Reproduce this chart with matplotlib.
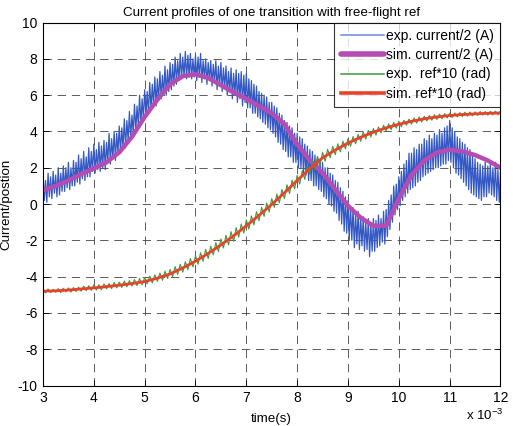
import numpy as np
import matplotlib
matplotlib.use("Agg")
import matplotlib.pyplot as plt

plt.rcParams['font.family'] = ['Liberation Sans', 'DejaVu Sans']
plt.rcParams['axes.unicode_minus'] = False

# ---- data (time in ms, i.e. x 10^-3 s) ----
# experimental current: ripple peaks (at 3.00, 3.05, ... 12.00 ms)
exp_current_peaks = [
    1.6, 1.3, 1.7, 1.5, 1.8, 1.6, 2.0, 1.7, 2.1, 2.0,
    2.3, 2.0, 2.4, 2.3, 2.7, 2.5, 2.9, 2.6, 3.1, 2.9,
    3.3, 3.0, 3.4, 3.2, 3.5, 3.4, 3.9, 3.6, 4.0, 3.9,
    4.3, 4.2, 4.7, 4.6, 5.1, 4.9, 5.5, 5.4, 6.0, 5.8,
    6.3, 6.2, 6.7, 6.6, 7.0, 6.9, 7.3, 7.1, 7.6, 7.4,
    7.8, 7.7, 8.1, 7.9, 8.3, 8.1, 8.4, 8.2, 8.3, 8.0,
    8.2, 8.1, 8.3, 7.9, 8.0, 7.8, 7.9, 7.7, 7.9, 7.6,
    7.8, 7.5, 7.6, 7.3, 7.5, 7.2, 7.4, 7.2, 7.3, 7.1,
    7.2, 6.9, 6.8, 6.6, 6.5, 6.2, 6.1, 6.0, 5.9, 5.6,
    5.6, 5.4, 5.3, 5.0, 4.9, 4.6, 4.5, 4.3, 4.2, 3.9,
    3.9, 3.7, 3.6, 3.3, 3.2, 3.0, 2.9, 2.7, 2.6, 2.4,
    2.3, 2.0, 2.0, 1.7, 1.6, 1.3, 1.2, 0.9, 0.7, 0.4,
    0.2, -0.1, -0.2, -0.5, -0.4, -0.7, -0.7, -1.0, -0.8, -1.1,
    -0.8, -0.9, -0.6, -0.8, -0.4, -0.3, 0.2, 0.5, 1.0, 1.1,
    1.5, 1.8, 2.2, 2.4, 2.8, 2.8, 3.1, 3.0, 3.3, 3.3,
    3.6, 3.5, 3.8, 3.6, 3.9, 3.8, 4.1, 3.9, 4.2, 4.3,
    4.6, 4.2, 4.0, 3.7, 3.6, 3.4, 3.3, 3.1, 3.0, 2.7,
    2.5, 2.3, 2.2, 2.1, 2.3, 2.1, 2.2, 2.0, 2.3, 1.9,
    1.8,
]
# experimental current: ripple troughs (at 3.025, 3.075, ... 11.975 ms)
exp_current_troughs = [
    0.2, 0.1, 0.4, 0.3, 0.6, 0.4, 0.5, 0.7, 0.7, 0.9,
    0.8, 1.0, 1.0, 1.2, 1.1, 1.4, 1.3, 1.5, 1.5, 1.8,
    1.7, 1.9, 1.8, 2.0, 1.9, 2.3, 2.2, 2.5, 2.4, 2.8,
    2.8, 3.1, 3.1, 3.5, 3.6, 3.9, 4.0, 4.3, 4.4, 4.7,
    4.8, 5.0, 5.2, 5.4, 5.4, 5.7, 5.8, 6.0, 6.0, 6.2,
    6.3, 6.5, 6.6, 6.8, 6.9, 7.0, 6.9, 7.0, 6.9, 7.0,
    6.8, 7.0, 6.7, 6.9, 6.6, 6.8, 6.5, 6.7, 6.3, 6.5,
    6.2, 6.4, 6.0, 6.2, 5.8, 6.0, 5.6, 5.8, 5.4, 5.6,
    5.3, 5.3, 5.0, 5.0, 4.8, 4.7, 4.5, 4.4, 4.2, 4.1,
    3.9, 3.7, 3.4, 3.3, 3.0, 2.9, 2.6, 2.6, 2.3, 2.3,
    2.0, 2.0, 1.7, 1.6, 1.3, 1.3, 1.0, 1.0, 0.8, 0.7,
    0.4, 0.3, 0.0, -0.1, -0.4, -0.5, -0.9, -1.1, -1.5, -1.6,
    -2.0, -2.0, -2.4, -2.2, -2.5, -2.3, -2.6, -2.5, -2.9, -2.6,
    -2.6, -2.4, -2.3, -2.1, -2.2, -1.8, -1.4, -1.0, -0.6, -0.3,
    -0.1, 0.2, 0.4, 0.6, 0.8, 0.9, 1.0, 1.2, 1.3, 1.5,
    1.6, 1.7, 1.8, 1.9, 2.0, 2.0, 2.1, 2.2, 2.2, 2.4,
    2.3, 2.0, 1.7, 1.6, 1.4, 1.2, 1.0, 0.8, 0.6, 0.5,
    0.4, 0.3, 0.2, 0.4, 0.4, 0.6, 0.5, 0.4, 0.2, 0.1,
]

# experimental ref*10 (at 3.00, 3.05, ... 12.00 ms)
exp_ref = [
    -4.70, -4.90, -4.68, -4.88, -4.70, -4.86, -4.66, -4.88, -4.64, -4.84,
    -4.62, -4.85, -4.60, -4.82, -4.58, -4.80, -4.52, -4.78, -4.50, -4.76,
    -4.45, -4.74, -4.44, -4.72, -4.40, -4.68, -4.38, -4.66, -4.32, -4.62,
    -4.30, -4.60, -4.24, -4.56, -4.22, -4.52, -4.16, -4.50, -4.10, -4.45,
    -4.05, -4.40, -3.98, -4.34, -3.90, -4.26, -3.80, -4.20, -3.70, -4.10,
    -3.60, -4.00, -3.45, -3.88, -3.32, -3.75, -3.18, -3.62, -3.00, -3.46,
    -2.85, -3.32, -2.68, -3.15, -2.50, -3.00, -2.32, -2.80, -2.12, -2.62,
    -1.92, -2.42, -1.72, -2.25, -1.52, -2.05, -1.30, -1.82, -1.10, -1.60,
    -0.88, -1.38, -0.65, -1.15, -0.42, -0.92, -0.18, -0.68, 0.06, -0.44,
    0.30, -0.18, 0.55, 0.06, 0.80, 0.30, 1.06, 0.58, 1.32, 0.84,
    1.58, 1.10, 1.85, 1.36, 2.10, 1.65, 2.38, 1.90, 2.62, 2.14,
    2.85, 2.36, 3.02, 2.55, 3.18, 2.72, 3.32, 2.88, 3.46, 3.04,
    3.60, 3.18, 3.72, 3.32, 3.84, 3.46, 3.96, 3.58, 4.06, 3.70,
    4.16, 3.80, 4.25, 3.92, 4.34, 4.02, 4.42, 4.10, 4.50, 4.18,
    4.56, 4.26, 4.62, 4.34, 4.68, 4.40, 4.74, 4.46, 4.80, 4.52,
    4.84, 4.58, 4.88, 4.62, 4.92, 4.66, 4.95, 4.70, 4.98, 4.74,
    5.00, 4.77, 5.02, 4.80, 5.04, 4.82, 5.06, 4.84, 5.07, 4.86,
    5.08, 4.88, 5.10, 4.90, 5.10, 4.90, 5.11, 4.91, 5.12, 4.92,
    5.12,
]

t_sim = [3.0, 3.25, 3.5, 3.75, 4.0, 4.25, 4.5, 4.75, 5.0, 5.25,
         5.5, 5.75, 6.0, 6.25, 6.5, 6.75, 7.0, 7.25, 7.5, 7.75,
         8.0, 8.25, 8.5, 8.75, 9.0, 9.25, 9.5, 9.75, 10.0, 10.25,
         10.5, 10.75, 11.0, 11.25, 11.5, 11.75, 12.0]

sim_current = [0.75, 1.0, 1.3, 1.65, 1.97, 2.3, 2.85, 3.7, 4.8, 5.75,
               6.6, 7.05, 7.15, 6.95, 6.55, 6.15, 5.8, 5.4, 5.0, 4.4,
               3.3, 2.4, 1.7, 0.8, -0.1, -0.75, -1.2, -1.2, 0.3, 1.6,
               2.4, 2.85, 3.0, 2.9, 2.7, 2.4, 2.0]

sim_ref = [-4.80, -4.78, -4.74, -4.68, -4.62, -4.55, -4.47, -4.38, -4.27, -4.08,
           -3.85, -3.52, -3.15, -2.72, -2.25, -1.75, -1.20, -0.62, -0.02, 0.62,
           1.30, 1.95, 2.55, 2.98, 3.36, 3.68, 3.96, 4.20, 4.40, 4.56,
           4.70, 4.80, 4.88, 4.93, 4.97, 5.00, 5.02]

labels = ["exp. current/2 (A)", "sim. current/2 (A)",
          "exp.  ref*10 (rad)", "sim. ref*10 (rad)"]

# time bases of the experimental samples
t_peak = 3.0 + 0.05 * np.arange(len(exp_current_peaks))
t_trough = 3.025 + 0.05 * np.arange(len(exp_current_troughs))
t_exp_ref = 3.0 + 0.05 * np.arange(len(exp_ref))

# interleave peaks and troughs into one trace
t_cur = np.empty(len(t_peak) + len(t_trough))
v_cur = np.empty_like(t_cur)
t_cur[0::2] = t_peak
t_cur[1::2] = t_trough
v_cur[0::2] = exp_current_peaks
v_cur[1::2] = exp_current_troughs

# ---- figure ----
fig = plt.figure(figsize=(5.13, 4.26), dpi=100)
ax = fig.add_axes([0.0838, 0.095, 0.8918, 0.852])

blue, purple, green, red = '#3358c4', '#b44cb4', '#3c9a3c', '#e8432a'
ax.plot(t_cur, v_cur, color=blue, lw=0.9, label=labels[0])
ax.plot(t_sim, sim_current, color=purple, lw=3.2, label=labels[1],
        solid_capstyle='round')
ax.plot(t_exp_ref, exp_ref, color=green, lw=0.8, label=labels[2])
ax.plot(t_sim, sim_ref, color=red, lw=2.0, label=labels[3])

ax.set_xlim(3, 12)
ax.set_ylim(-10, 10)
ax.set_xticks(range(3, 13))
ax.set_yticks(range(-10, 11, 2))
ax.grid(True, linestyle=(0, (10, 7)), color='#404040', lw=0.6)
ax.tick_params(direction='in', top=True, right=True, labelsize=10,
               length=4, width=0.6, pad=4)
for s in ax.spines.values():
    s.set_linewidth(0.8)

ax.set_title("Current profiles of one transition with free-flight ref",
             fontsize=9.6, pad=5)
ax.set_xlabel("time(s)", fontsize=9.6, labelpad=6)
ax.set_ylabel("Current/postion", fontsize=9.6)
ax.yaxis.set_label_coords(-0.067, 0.5)
fig.text(0.946, 0.013, r"x 10$^{\mathregular{-3}}$", fontsize=9.6,
         ha='center', va='baseline')

leg = ax.legend(loc='upper right', fontsize=10, frameon=True, fancybox=False,
                borderaxespad=0, handlelength=3.1, handletextpad=0.2,
                labelspacing=0.38, borderpad=0.45, edgecolor='black')
leg.get_frame().set_linewidth(0.8)
leg_lines = leg.get_lines()
leg_lines[0].set_linewidth(1.1)
leg_lines[0].set_color('#6f86d6')
leg_lines[2].set_linewidth(1.1)
leg_lines[1].set_linewidth(4.0)
leg_lines[3].set_linewidth(2.6)

fig.savefig("out.png", dpi=100)
